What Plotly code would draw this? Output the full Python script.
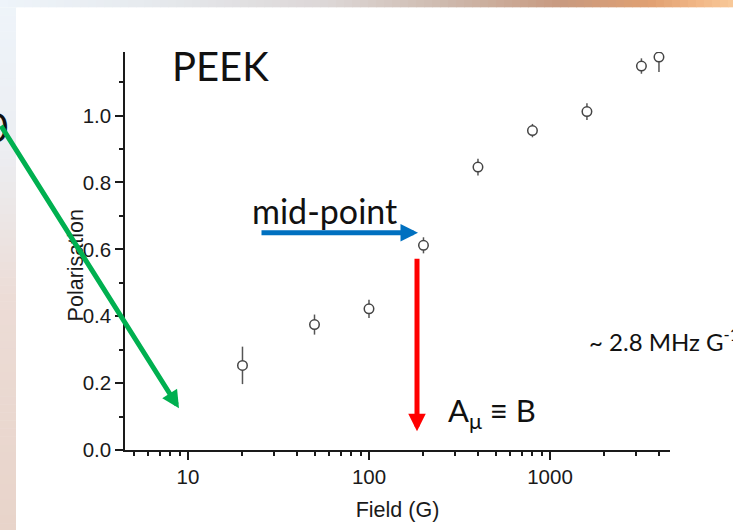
import plotly.graph_objects as go

# ---------------- data ----------------
field_G = [20, 50, 100, 200, 400, 800, 1600, 3200, 4000]
polarisation = [0.253, 0.375, 0.422, 0.612, 0.846, 0.955, 1.012, 1.148, 1.175]
polarisation_err = [0.056, 0.030, 0.027, 0.024, 0.025, 0.020, 0.025, 0.023, 0.045]

x_tick_vals = [10, 100, 1000]
x_tick_text = ["10", "100", "1000"]
x_minor_vals = [5, 6, 7, 8, 9, 20, 30, 40, 50, 60, 70, 80, 90,
                200, 300, 400, 500, 600, 700, 800, 900, 2000, 3000, 4000]
y_tick_vals = [0.0, 0.2, 0.4, 0.6, 0.8, 1.0]
y_tick_text = ["0.0", "0.2", "0.4", "0.6", "0.8", "1.0"]
y_minor_vals = [0.1, 0.3, 0.5, 0.7, 0.9, 1.1]

# ---------------- geometry ----------------
W, H = 733, 530
ML, MR, MT, MB = 125, 63, 52, 77
PW, PH = W - ML - MR, H - MT - MB
X_RANGE = [0.652, 3.663]   # log10
Y_RANGE = [0.0, 1.19]


def px_x(px):
    return (px - ML) / PW


def px_y(py):
    return (H - MB - py) / PH


AXIS_FAMILY = "Liberation Sans, Arial, Helvetica"
AXIS_FONT = dict(family=AXIS_FAMILY, size=20.5, color="#1a1a1a")
SLIDE_FONT = "Lato, Century Gothic, sans-serif"

fig = go.Figure()

fig.add_trace(go.Scatter(
    x=field_G, y=polarisation,
    mode="markers",
    marker=dict(symbol="circle", size=9.5, color="white",
                line=dict(color="#444444", width=1.5)),
    error_y=dict(type="data", array=polarisation_err, visible=True,
                 color="#555555", thickness=1.5, width=0),
    showlegend=False,
))

# ---------------- slide background bands ----------------
shapes = []
top_stops = [(0, (238, 244, 250)), (150, (230, 234, 238)), (330, (220, 214, 214)),
             (450, (205, 184, 172)), (560, (200, 154, 128)), (650, (224, 160, 114)),
             (700, (242, 184, 136)), (733, (248, 200, 152))]
left_stops = [(0, (238, 244, 250)), (150, (236, 238, 242)), (300, (236, 220, 214)),
              (530, (232, 212, 202))]
TOP_BAND = 7
LEFT_BAND = 16


def interp(stops, v):
    for (a, ca), (b, cb) in zip(stops[:-1], stops[1:]):
        if a <= v <= b:
            t = (v - a) / (b - a) if b > a else 0
            return tuple(int(round(ca[i] + (cb[i] - ca[i]) * t)) for i in range(3))
    return stops[-1][1]


step = 8
for x0 in range(0, W, step):
    c = interp(top_stops, x0 + step / 2)
    shapes.append(dict(type="rect", xref="paper", yref="paper", layer="below",
                       x0=px_x(x0), x1=px_x(x0 + step + 0.5), y0=px_y(TOP_BAND), y1=px_y(-1),
                       line=dict(width=0), fillcolor="rgb(%d,%d,%d)" % c))
for y0 in range(TOP_BAND, H, step):
    c = interp(left_stops, y0 + step / 2)
    shapes.append(dict(type="rect", xref="paper", yref="paper", layer="below",
                       x0=px_x(-1), x1=px_x(LEFT_BAND), y0=px_y(y0 + step + 0.5), y1=px_y(y0),
                       line=dict(width=0), fillcolor="rgb(%d,%d,%d)" % c))

# ---------------- annotations ----------------
ann = []
# y axis title
ann.append(dict(text="Polarisation", xref="paper", yref="paper", x=px_x(62), y=px_y(267),
                textangle=-90, showarrow=False,
                font=dict(family=AXIS_FAMILY, size=21.5, color="#1a1a1a")))
# slide texts
ann.append(dict(text="PEEK", xref="paper", yref="paper", x=px_x(170), y=px_y(66),
                xanchor="left", yanchor="middle", showarrow=False,
                font=dict(family=SLIDE_FONT, size=40, color="#111111")))
ann.append(dict(text="mid-point", xref="paper", yref="paper", x=px_x(250), y=px_y(212),
                xanchor="left", yanchor="middle", showarrow=False,
                font=dict(family=SLIDE_FONT, size=34, color="#111111")))
ann.append(dict(text="A<sub>μ</sub> ≡ B", xref="paper", yref="paper", x=px_x(446), y=px_y(415),
                xanchor="left", yanchor="middle", showarrow=False,
                font=dict(family=SLIDE_FONT, size=31, color="#111111")))
ann.append(dict(text="~ 2.8 MHz G<sup>-1</sup>", xref="paper", yref="paper", x=px_x(587), y=px_y(342),
                xanchor="left", yanchor="middle", showarrow=False,
                font=dict(family=SLIDE_FONT, size=24, color="#111111")))
ann.append(dict(text="0", xref="paper", yref="paper", x=px_x(10), y=px_y(128),
                xanchor="right", yanchor="middle", showarrow=False,
                font=dict(family=SLIDE_FONT, size=40, color="#111111")))

# arrows (head position, tail offset in px)
def arrow(hx, hy, tx, ty, color):
    return dict(text="", xref="paper", yref="paper", x=px_x(hx), y=px_y(hy),
                ax=tx - hx, ay=ty - hy, axref="pixel", ayref="pixel",
                showarrow=True, arrowhead=2, arrowsize=0.7, arrowwidth=5,
                arrowcolor=color)

ann.append(arrow(418, 234, 260, 234, "#0070C0"))
ann.append(arrow(417, 434, 417, 260, "#FF0000"))
ann.append(arrow(179, 411, -20, 127, "#00B050"))

fig.update_layout(
    width=W, height=H,
    margin=dict(l=ML, r=MR, t=MT, b=MB, pad=0),
    paper_bgcolor="white", plot_bgcolor="white",
    shapes=shapes, annotations=ann,
    xaxis=dict(type="log", range=X_RANGE, showgrid=False, zeroline=False,
               showline=True, linecolor="#1a1a1a", linewidth=1.5,
               ticks="outside", ticklen=8, tickwidth=1.5, tickcolor="#1a1a1a",
               tickvals=x_tick_vals, ticktext=x_tick_text, tickfont=AXIS_FONT,
               minor=dict(ticks="outside", ticklen=4, tickwidth=1.5, tickcolor="#1a1a1a",
                          tickvals=x_minor_vals, showgrid=False),
               title=dict(text="Field (G)", font=dict(family=AXIS_FAMILY, size=21.5,
                                                      color="#1a1a1a"), standoff=15)),
    yaxis=dict(range=Y_RANGE, showgrid=False, zeroline=False,
               showline=True, linecolor="#1a1a1a", linewidth=1.5,
               ticks="outside", ticklen=8, tickwidth=1.5, tickcolor="#1a1a1a",
               tickvals=y_tick_vals, ticktext=y_tick_text, tickfont=AXIS_FONT,
               minor=dict(ticks="outside", ticklen=4, tickwidth=1.5, tickcolor="#1a1a1a",
                          tickvals=y_minor_vals, showgrid=False)),
)

fig.write_html("out.html")
